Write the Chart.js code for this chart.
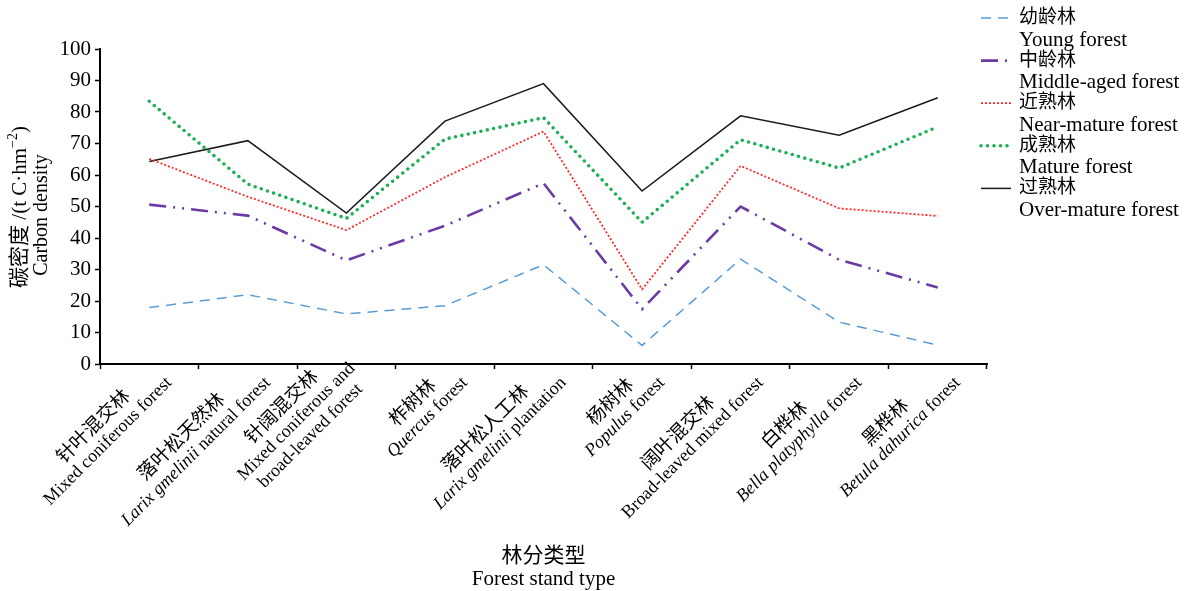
<!DOCTYPE html>
<html>
<head>
<meta charset="utf-8">
<script src="https://cdn.jsdelivr.net/npm/chart.js@4.4.0/dist/chart.umd.min.js"></script>
<style>
  html, body { margin: 0; padding: 0; background: #fff; }
  #wrap { width: 1188px; height: 591px; }
</style>
</head>
<body>
<div id="wrap"><canvas id="chart" width="1188" height="591"></canvas></div>
<script>
// Kategorien (chinesisch / englisch, *kursiv*)
const catZh = ['针叶混交林', '落叶松天然林', '针阔混交林', '柞树林', '落叶松人工林', '杨树林', '阔叶混交林', '白桦林', '黑桦林'];
const catEn = [
  'Mixed coniferous forest',
  '*Larix gmelinii* natural forest',
  'Mixed coniferous and\nbroad-leaved forest',
  '*Quercus* forest',
  '*Larix gmelinii* plantation',
  '*Populus* forest',
  'Broad-leaved mixed forest',
  '*Bella platyphylla* forest',
  '*Betula dahurica* forest'
];

// Serien-Namen
const seriesZh = ['幼龄林', '中龄林', '近熟林', '成熟林', '过熟林'];
const seriesEn = ['Young forest', 'Middle-aged forest', 'Near-mature forest', 'Mature forest', 'Over-mature forest'];

// Kohlenstoffdichte (t C·hm-2)
const young       = [17.9, 22.0, 15.9, 18.5, 31.5, 5.9, 33.3, 13.3, 6.0];
const middleAged  = [50.6, 47.1, 32.9, 43.9, 57.4, 17.4, 50.0, 33.1, 24.3];
const nearMature  = [65.1, 53.1, 42.5, 59.3, 73.8, 23.7, 62.9, 49.4, 47.0];
const mature      = [83.4, 57.1, 46.2, 71.4, 78.2, 45.0, 71.2, 62.2, 75.3];
const overMature  = [64.3, 70.9, 47.9, 77.1, 89.0, 54.9, 78.8, 72.6, 84.5];

const yTicks = [0, 10, 20, 30, 40, 50, 60, 70, 80, 90, 100];

const SERIF = '"Liberation Serif", "Noto Sans CJK SC", serif';
function f(size, italic) { return (italic ? 'italic ' : '') + size + 'px ' + SERIF; }

// Text mit Abschnitten (normal/kursiv/hochgestellt) zeichnen
function runsWidth(ctx, runs) {
    let w = 0;
    runs.forEach(function(r) { ctx.font = r.font; w += ctx.measureText(r.t).width; });
    return w;
}
function drawRuns(ctx, runs, x, y) {
    runs.forEach(function(r) {
        ctx.font = r.font;
        ctx.fillText(r.t, x, y + (r.dy || 0));
        x += ctx.measureText(r.t).width;
    });
}
function parseItalic(str, size) {
    return str.split('*').map(function(t, i) {
        return {t: t, font: f(size, i % 2 === 1)};
    }).filter(function(r) { return r.t.length; });
}

const decorPlugin = {
    id: 'decor',
    afterDraw: function(chart) {
        const ctx = chart.ctx;
        const xs = chart.scales.x;
        ctx.save();
        ctx.fillStyle = '#000';
        ctx.textBaseline = 'middle';
        ctx.textAlign = 'left';

        // X-Achsenbeschriftungen, 45° gedreht, Zeilen zentriert
        const lh = 20;
        catZh.forEach(function(zh, i) {
            const lines = [[{t: zh, font: f(19)}]];
            catEn[i].split('\n').forEach(function(l) { lines.push(parseItalic(l, 18)); });
            const widths = lines.map(function(l) { return runsWidth(ctx, l); });
            const maxW = Math.max.apply(null, widths);
            const px = xs.getPixelForValue(i);
            ctx.save();
            ctx.translate(px + 20, 380);
            ctx.rotate(-Math.PI / 4);
            lines.forEach(function(l, j) {
                const ly = (j - (lines.length - 1)) * lh;
                drawRuns(ctx, l, -maxW / 2 - widths[j] / 2, ly);
            });
            ctx.restore();
        });

        // X-Achsentitel
        ctx.textAlign = 'center';
        const cx = (chart.chartArea.left + chart.chartArea.right) / 2;
        ctx.font = f(21);
        ctx.fillText('林分类型', cx, 556);
        ctx.fillText('Forest stand type', cx, 579);

        // Y-Achsentitel
        const yRuns = [
            {t: '碳密度 /(t C·hm', font: f(21)},
            {t: '−2', font: f(14), dy: -7},
            {t: ')', font: f(21)}
        ];
        ctx.textAlign = 'left';
        ctx.save();
        ctx.translate(20, 207);
        ctx.rotate(-Math.PI / 2);
        drawRuns(ctx, yRuns, -runsWidth(ctx, yRuns) / 2, 0);
        ctx.restore();
        ctx.save();
        ctx.translate(42, 215);
        ctx.rotate(-Math.PI / 2);
        ctx.textAlign = 'center';
        ctx.font = f(20);
        ctx.fillText('Carbon density', 0, 0);
        ctx.restore();

        // Legende
        chart.data.datasets.forEach(function(ds, i) {
            const yc = 18 + i * 42.6;
            ctx.save();
            ctx.strokeStyle = ds.borderColor;
            ctx.lineWidth = ds.borderWidth;
            ctx.lineCap = ds.borderCapStyle || 'butt';
            ctx.setLineDash(ds.borderDash || []);
            ctx.beginPath();
            ctx.moveTo(981, yc);
            ctx.lineTo(1011, yc);
            ctx.stroke();
            ctx.restore();
            ctx.textAlign = 'left';
            ctx.font = f(19);
            ctx.fillText(seriesZh[i], 1019, yc);
            ctx.font = f(21);
            ctx.fillText(seriesEn[i], 1019, yc + 22);
        });
        ctx.restore();
    }
};

function series(data, color, width, dash, cap) {
    return {
        data: data,
        borderColor: color,
        backgroundColor: color,
        borderWidth: width,
        borderDash: dash,
        borderCapStyle: cap || 'butt',
        pointRadius: 0,
        pointHoverRadius: 0,
        tension: 0,
        fill: false
    };
}

const ctx = document.getElementById('chart').getContext('2d');
const chart = new Chart(ctx, {
    type: 'line',
    data: {
        labels: catZh,
        datasets: [
            Object.assign(series(young, '#5B9BD5', 1.5, [10, 7]), {label: seriesZh[0]}),
            Object.assign(series(middleAged, '#6A3BA3', 2.6, [17, 7, 2, 7, 2, 7]), {label: seriesZh[1]}),
            Object.assign(series(nearMature, '#FF2A2A', 1.8, [2, 2]), {label: seriesZh[2]}),
            Object.assign(series(mature, '#1AAF54', 3.6, [0, 6.5], 'round'), {label: seriesZh[3]}),
            Object.assign(series(overMature, '#1A1A1A', 1.5, []), {label: seriesZh[4]})
        ]
    },
    options: {
        responsive: false,
        animation: false,
        devicePixelRatio: 1,
        layout: {padding: {left: 0, top: 49, right: 201, bottom: 0}},
        plugins: {
            legend: {display: false},
            tooltip: {enabled: false}
        },
        scales: {
            x: {
                offset: true,
                grid: {
                    offset: true,
                    drawOnChartArea: false,
                    drawTicks: true,
                    tickLength: 5,
                    tickWidth: 1.5,
                    tickColor: '#000'
                },
                border: {display: true, color: '#000', width: 2},
                ticks: {display: false},
                afterFit: function(s) { s.height = 591 - 364; }
            },
            y: {
                min: 0,
                max: 100,
                afterBuildTicks: function(s) { s.ticks = yTicks.map(function(v) { return {value: v}; }); },
                grid: {
                    drawOnChartArea: false,
                    drawTicks: true,
                    tickLength: 5,
                    tickWidth: 1.5,
                    tickColor: '#000'
                },
                border: {display: true, color: '#000', width: 2},
                ticks: {
                    color: '#000',
                    padding: 4,
                    font: {family: '"Liberation Serif", serif', size: 21}
                },
                afterFit: function(s) { s.width = 100; }
            }
        }
    },
    plugins: [decorPlugin]
});
</script>
</body>
</html>
